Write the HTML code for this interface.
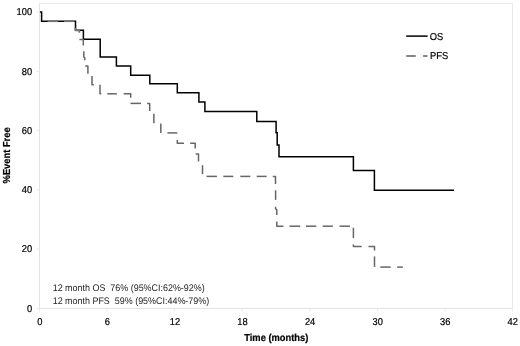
<!DOCTYPE html>
<html><head><meta charset="utf-8"><title>Kaplan-Meier</title>
<style>
html,body{margin:0;padding:0;background:#fff;}
svg{display:block;}
text{text-rendering:geometricPrecision;font-family:"Liberation Sans",Arial,sans-serif;font-size:9.33px;fill:#000;stroke:#000;stroke-width:0.2px;}
.b{font-weight:bold;}
.a{font-size:8.95px;fill:#1c1c1c;stroke:none;}
</style></head><body>
<svg width="520" height="346" viewBox="0 0 520 346">
<rect width="520" height="346" fill="#fff"/>

<g fill="none" stroke="#e8e8e8" stroke-width="1">
<path d="M39.5,3.5 H512.5 V308.4"/>
</g>
<g fill="none" stroke="#e2e2e2" stroke-width="1">
<path d="M39.5,3.5 V308.4 H512.5"/>
<path d="M36.5,308.4 H39.5" stroke="#e8e8e8"/>
<path d="M36.5,249.1 H39.5" stroke="#e8e8e8"/>
<path d="M36.5,189.9 H39.5" stroke="#e8e8e8"/>
<path d="M36.5,130.6 H39.5" stroke="#e8e8e8"/>
<path d="M36.5,71.4 H39.5" stroke="#e8e8e8"/>
<path d="M36.5,12.1 H39.5" stroke="#e8e8e8"/>
<path d="M39.5,308.4 V311.4" stroke="#e8e8e8"/>
<path d="M107.1,308.4 V311.4" stroke="#e8e8e8"/>
<path d="M174.6,308.4 V311.4" stroke="#e8e8e8"/>
<path d="M242.2,308.4 V311.4" stroke="#e8e8e8"/>
<path d="M309.8,308.4 V311.4" stroke="#e8e8e8"/>
<path d="M377.4,308.4 V311.4" stroke="#e8e8e8"/>
<path d="M444.9,308.4 V311.4" stroke="#e8e8e8"/>
<path d="M512.5,308.4 V311.4" stroke="#e8e8e8"/>
</g>
<text transform="translate(32.1,311.6) scale(1,1.07)" text-anchor="end" xml:space="preserve">0</text>
<text transform="translate(32.1,252.3) scale(1,1.07)" text-anchor="end" xml:space="preserve">20</text>
<text transform="translate(32.1,193.1) scale(1,1.07)" text-anchor="end" xml:space="preserve">40</text>
<text transform="translate(32.1,133.8) scale(1,1.07)" text-anchor="end" xml:space="preserve">60</text>
<text transform="translate(32.1,74.6) scale(1,1.07)" text-anchor="end" xml:space="preserve">80</text>
<text transform="translate(32.1,15.3) scale(1,1.07)" text-anchor="end" xml:space="preserve">100</text>
<text transform="translate(39.8,325.3) scale(1,1.07)" text-anchor="middle" xml:space="preserve">0</text>
<text transform="translate(107.4,325.3) scale(1,1.07)" text-anchor="middle" xml:space="preserve">6</text>
<text transform="translate(174.9,325.3) scale(1,1.07)" text-anchor="middle" xml:space="preserve">12</text>
<text transform="translate(242.5,325.3) scale(1,1.07)" text-anchor="middle" xml:space="preserve">18</text>
<text transform="translate(310.1,325.3) scale(1,1.07)" text-anchor="middle" xml:space="preserve">24</text>
<text transform="translate(377.7,325.3) scale(1,1.07)" text-anchor="middle" xml:space="preserve">30</text>
<text transform="translate(445.2,325.3) scale(1,1.07)" text-anchor="middle" xml:space="preserve">36</text>
<text transform="translate(512.8,325.3) scale(1,1.07)" text-anchor="middle" xml:space="preserve">42</text>
<text class="b" transform="translate(276.3,341.3) scale(1,1.09)" text-anchor="middle" xml:space="preserve">Time (months)</text>
<text class="b" transform="translate(10.1,155.4) rotate(-90) scale(1,1.09)" text-anchor="middle" xml:space="preserve">%Event Free</text>
<text class="a" transform="translate(52.7,290.6) scale(1,1.07)" text-anchor="start" xml:space="preserve">12 month OS  76% (95%CI:62%-92%)</text>
<text class="a" transform="translate(52.7,304.0) scale(1,1.07)" text-anchor="start" xml:space="preserve">12 month PFS  59% (95%CI:44%-79%)</text>
<polyline transform="translate(0,0.3)" fill="none" stroke="#000" stroke-width="1.5" stroke-linejoin="miter" points="40.0,11.7 41.6,11.7 41.6,20.9 75.5,20.9 75.5,30.0 83.4,30.0 83.4,39.0 100.2,39.0 100.2,56.8 116.4,56.8 116.4,65.8 130.7,65.8 130.7,74.9 149.8,74.9 149.8,83.4 177.3,83.4 177.3,92.5 198.9,92.5 198.9,101.8 204.9,101.8 204.9,111.1 256.8,111.1 256.8,121.3 276.1,121.3 276.1,132.5 277.2,132.5 277.2,144.8 279.0,144.8 279.0,156.4 353.4,156.4 353.4,170.2 374.4,170.2 374.4,190.0 454.1,190.0"/>
<g transform="translate(0,0.4)" fill="none" stroke="#666" stroke-width="1.5" stroke-linejoin="round">
<polyline points="79.4,39.1 83.3,39.1 83.3,45.0"/>
<polyline points="83.8,50.9 83.8,56.4 84.8,57.5 84.8,59.9"/>
<polyline points="85.2,65.6 87.9,65.6 87.9,73.3"/>
<polyline points="92.0,75.6 92.0,84.3 93.8,84.3"/>
<polyline points="100.0,84.3 100.0,93.4 101.3,93.4"/>
<polyline points="107.3,93.4 116.8,93.4"/>
<polyline points="123.7,93.4 130.7,93.4 130.7,97.3"/>
<polyline points="130.5,103.0 141.0,103.0"/>
<polyline points="147.1,103.0 149.7,103.0 149.7,110.7"/>
<polyline points="153.9,113.3 153.9,122.9"/>
<polyline points="160.8,123.0 160.8,132.5"/>
<polyline points="167.4,132.5 177.3,132.5"/>
<polyline points="177.3,139.6 177.3,142.8 184.0,142.8"/>
<polyline points="190.2,142.8 195.2,142.8 195.2,148.2"/>
<polyline points="195.7,153.7 198.5,153.7 198.5,161.2"/>
<polyline points="202.5,164.8 202.5,173.8"/>
<polyline points="206.5,176.0 216.9,176.0"/>
<polyline points="223.3,176.0 233.3,176.0"/>
<polyline points="240.3,176.0 250.3,176.0"/>
<polyline points="256.7,176.0 266.6,176.0"/>
<polyline points="272.8,176.0 275.5,176.0 275.5,183.7"/>
<polyline points="275.6,189.9 275.6,199.5"/>
<polyline points="275.6,206.4 275.6,208.5 276.8,209.5 276.8,214.7"/>
<polyline points="276.8,221.1 276.8,225.8 283.4,225.8"/>
<polyline points="289.5,225.8 300.2,225.8"/>
<polyline points="305.9,225.8 316.3,225.8"/>
<polyline points="322.7,225.8 332.8,225.8"/>
<polyline points="339.5,225.8 349.9,225.8"/>
<polyline points="353.4,227.3 353.4,237.7"/>
<polyline points="353.4,244.0 353.4,246.0 361.7,246.0"/>
<polyline points="368.5,246.0 374.5,246.0 374.5,250.0"/>
<polyline points="374.5,256.0 374.5,266.5"/>
<polyline points="380.3,266.7 390.7,266.7"/>
<polyline points="397.2,266.7 402.8,266.7"/>
</g>
<g transform="translate(0,0.3)" fill="none" stroke="#747474" stroke-width="1.8" stroke-linejoin="round">
<polyline points="47.6,20.9 58.1,20.9"/>
<polyline points="64.0,20.9 74.5,20.9"/>
<polyline points="75.5,27.5 75.5,30.0 79.4,30.0 79.4,32.4"/>
</g>
<path d="M406.2,36.1 H427.6" stroke="#000" stroke-width="1.5" fill="none"/>
<text transform="translate(429.8,40.1) scale(1,1.07)" text-anchor="start" xml:space="preserve">OS</text>
<path d="M406.2,56.0 H415.8 M423.1,56.0 H427.5" stroke="#5e5e5e" stroke-width="1.4" fill="none"/>
<text transform="translate(430.0,59.3) scale(1,1.07)" text-anchor="start" xml:space="preserve">PFS</text>
</svg></body></html>
